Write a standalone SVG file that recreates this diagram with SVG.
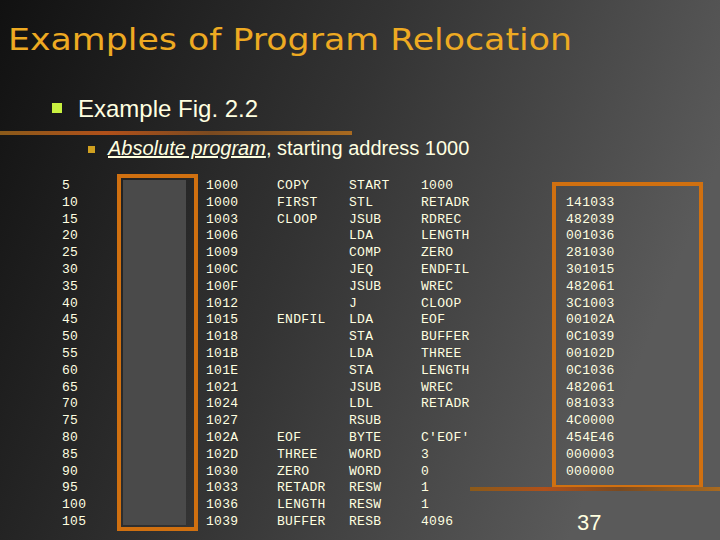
<svg xmlns="http://www.w3.org/2000/svg" width="720" height="540" viewBox="0 0 720 540">
<defs>
<linearGradient id="bg" x1="0" y1="0" x2="1" y2="0.3">
<stop offset="0" stop-color="#111"/><stop offset="0.5" stop-color="#333"/><stop offset="1" stop-color="#5a5a5a"/>
</linearGradient>
<linearGradient id="bar" x1="0" x2="1">
<stop offset="0" stop-color="#8a5a1a"/><stop offset="0.3" stop-color="#b0501a"/><stop offset="0.6" stop-color="#7a4a20"/><stop offset="1" stop-color="#a86a20"/>
</linearGradient>
<style>
.m{font-family:"Liberation Mono",monospace;font-size:13px;fill:#ffffe0;letter-spacing:0.3px}
.s{font-family:"Liberation Sans",Arial,sans-serif;fill:#ffffe0}
</style>
</defs>
<rect width="720" height="540" fill="url(#bg)"/>
<text x="8" y="50" font-family="DejaVu Sans,sans-serif" font-size="31" fill="#eeaa22" textLength="564" lengthAdjust="spacingAndGlyphs">Examples of Program Relocation</text>
<rect x="52" y="103" width="10" height="10" fill="#c8f040"/>
<text class="s" x="78" y="117" font-size="24">Example Fig. 2.2</text>
<rect x="0" y="131" width="352" height="4" fill="url(#bar)"/>
<rect x="88" y="146" width="7" height="7" fill="#d0a020"/>
<text class="s" x="108" y="155" font-size="20"><tspan font-style="italic" text-decoration="underline">Absolute program</tspan>, starting address 1000</text>
<g id="leftbox">
<rect x="119" y="176" width="77" height="353" fill="none" stroke="#d07010" stroke-width="4"/>
<rect x="123" y="180" width="63" height="345" fill="#4a4a4a"/>
</g>
<g id="rightbox"><rect x="554" y="184" width="147" height="303" fill="none" stroke="#d07010" stroke-width="4"/></g>
<rect x="470" y="487" width="250" height="4" fill="url(#bar)"/>
<g class="m">
<text x="62" y="189">5</text><text x="62" y="206">10</text><text x="62" y="223">15</text><text x="62" y="239">20</text><text x="62" y="256">25</text><text x="62" y="273">30</text><text x="62" y="290">35</text><text x="62" y="307">40</text><text x="62" y="323">45</text><text x="62" y="340">50</text><text x="62" y="357">55</text><text x="62" y="374">60</text><text x="62" y="391">65</text><text x="62" y="407">70</text><text x="62" y="424">75</text><text x="62" y="441">80</text><text x="62" y="458">85</text><text x="62" y="475">90</text><text x="62" y="491">95</text><text x="62" y="508">100</text><text x="62" y="525">105</text>
<text x="206" y="189">1000</text><text x="206" y="206">1000</text><text x="206" y="223">1003</text><text x="206" y="239">1006</text><text x="206" y="256">1009</text><text x="206" y="273">100C</text><text x="206" y="290">100F</text><text x="206" y="307">1012</text><text x="206" y="323">1015</text><text x="206" y="340">1018</text><text x="206" y="357">101B</text><text x="206" y="374">101E</text><text x="206" y="391">1021</text><text x="206" y="407">1024</text><text x="206" y="424">1027</text><text x="206" y="441">102A</text><text x="206" y="458">102D</text><text x="206" y="475">1030</text><text x="206" y="491">1033</text><text x="206" y="508">1036</text><text x="206" y="525">1039</text>
<text x="277" y="189">COPY</text><text x="277" y="206">FIRST</text><text x="277" y="223">CLOOP</text><text x="277" y="323">ENDFIL</text><text x="277" y="441">EOF</text><text x="277" y="458">THREE</text><text x="277" y="475">ZERO</text><text x="277" y="491">RETADR</text><text x="277" y="508">LENGTH</text><text x="277" y="525">BUFFER</text>
<text x="349" y="189">START</text><text x="349" y="206">STL</text><text x="349" y="223">JSUB</text><text x="349" y="239">LDA</text><text x="349" y="256">COMP</text><text x="349" y="273">JEQ</text><text x="349" y="290">JSUB</text><text x="349" y="307">J</text><text x="349" y="323">LDA</text><text x="349" y="340">STA</text><text x="349" y="357">LDA</text><text x="349" y="374">STA</text><text x="349" y="391">JSUB</text><text x="349" y="407">LDL</text><text x="349" y="424">RSUB</text><text x="349" y="441">BYTE</text><text x="349" y="458">WORD</text><text x="349" y="475">WORD</text><text x="349" y="491">RESW</text><text x="349" y="508">RESW</text><text x="349" y="525">RESB</text>
<text x="421" y="189">1000</text><text x="421" y="206">RETADR</text><text x="421" y="223">RDREC</text><text x="421" y="239">LENGTH</text><text x="421" y="256">ZERO</text><text x="421" y="273">ENDFIL</text><text x="421" y="290">WREC</text><text x="421" y="307">CLOOP</text><text x="421" y="323">EOF</text><text x="421" y="340">BUFFER</text><text x="421" y="357">THREE</text><text x="421" y="374">LENGTH</text><text x="421" y="391">WREC</text><text x="421" y="407">RETADR</text><text x="421" y="441">C'EOF'</text><text x="421" y="458">3</text><text x="421" y="475">0</text><text x="421" y="491">1</text><text x="421" y="508">1</text><text x="421" y="525">4096</text>
<text x="566" y="206">141033</text><text x="566" y="223">482039</text><text x="566" y="239">001036</text><text x="566" y="256">281030</text><text x="566" y="273">301015</text><text x="566" y="290">482061</text><text x="566" y="307">3C1003</text><text x="566" y="323">00102A</text><text x="566" y="340">0C1039</text><text x="566" y="357">00102D</text><text x="566" y="374">0C1036</text><text x="566" y="391">482061</text><text x="566" y="407">081033</text><text x="566" y="424">4C0000</text><text x="566" y="441">454E46</text><text x="566" y="458">000003</text><text x="566" y="475">000000</text>
</g>
<text class="s" x="577" y="530" font-size="22">37</text>
</svg>
